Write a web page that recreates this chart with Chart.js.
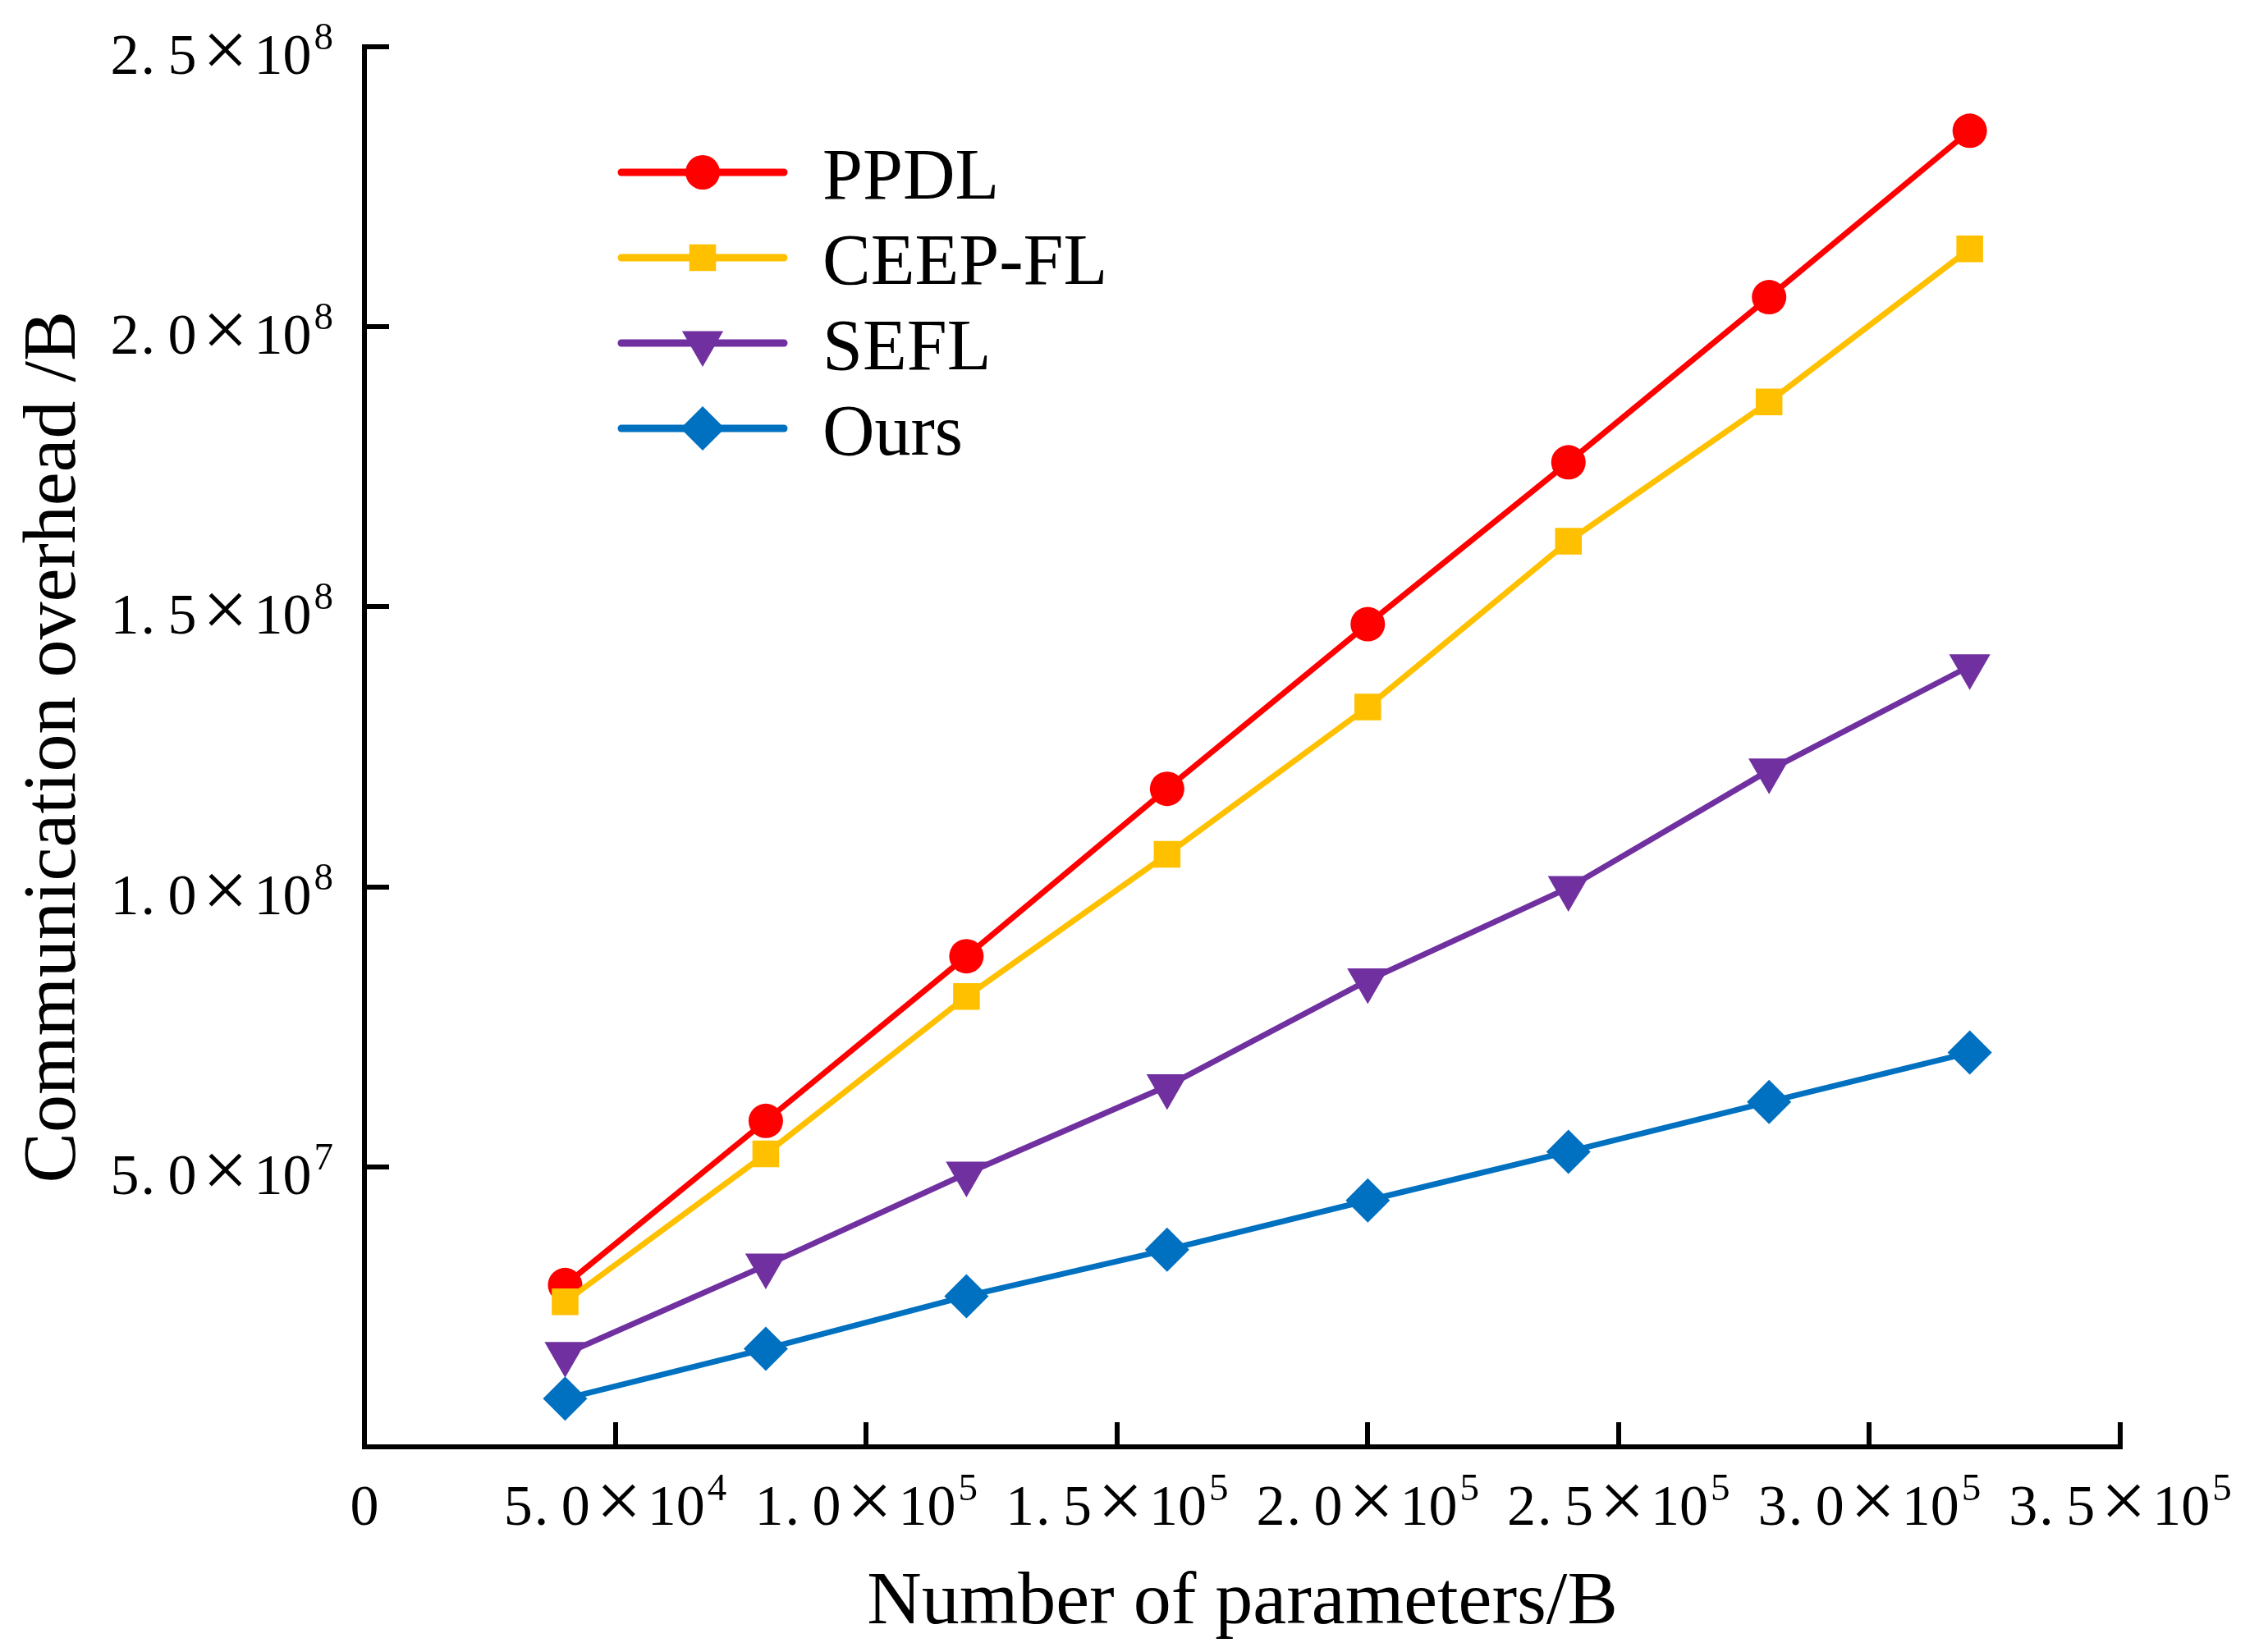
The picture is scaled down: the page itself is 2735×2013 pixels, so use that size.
<!DOCTYPE html>
<html>
<head>
<meta charset="UTF-8">
<title>Communication overhead</title>
<script src="https://cdn.jsdelivr.net/npm/chart.js@4.4.1/dist/chart.umd.min.js"></script>
<style>
  html, body { margin: 0; padding: 0; background: #fff; }
  #wrap { width: 2735px; height: 2013px; position: relative; }
</style>
</head>
<body>
<div id="wrap"><canvas id="myChart"></canvas></div>
<script>
// data
const params = [40000, 80000, 120000, 160000, 200000, 240000, 280000, 320000];
const ppdl   = [2.89e7, 5.82e7, 8.76e7, 1.175e8, 1.469e8, 1.758e8, 2.053e8, 2.350e8];
const ceepfl = [2.59e7, 5.23e7, 8.04e7, 1.058e8, 1.321e8, 1.617e8, 1.866e8, 2.139e8];
const sefl   = [1.66e7, 3.24e7, 4.88e7, 6.44e7, 8.33e7, 9.98e7, 1.208e8, 1.394e8];
const ours   = [0.86e7, 1.75e7, 2.69e7, 3.52e7, 4.40e7, 5.27e7, 6.16e7, 7.04e7];

const seriesNames = ['PPDL', 'CEEP-FL', 'SEFL', 'Ours'];
const xTickLabels = ['0', '5.0×10⁴', '1.0×10⁵', '1.5×10⁵', '2.0×10⁵', '2.5×10⁵', '3.0×10⁵', '3.5×10⁵'];
const yTickLabels = ['', '5.0×10⁷', '1.0×10⁸', '1.5×10⁸', '2.0×10⁸', '2.5×10⁸'];

const FONT = '"Liberation Serif", "Times New Roman", serif';
Chart.defaults.font.family = FONT;
Chart.defaults.color = '#000';

function pts(ys) {
    return params.map((x, i) => ({ x: x, y: ys[i] }));
}

function series(i, ys, color, style, radius, rot, order) {
    return {
        label: seriesNames[i],
        data: pts(ys),
        borderColor: color,
        backgroundColor: color,
        borderWidth: 7,
        pointStyle: style,
        pointRadius: radius,
        pointRotation: rot,
        pointBorderWidth: 0,
        tension: 0,
        order: order
    };
}

// tick labels in the original are a fixed-pitch font with a raised exponent
const SUP = { '⁰': '0', '¹': '1', '²': '2', '³': '3', '⁴': '4', '⁵': '5', '⁶': '6', '⁷': '7', '⁸': '8', '⁹': '9' };
const EM = 70, SUPSIZE = 47;

function sciWidth(ctx, label) {
    let w = 0, sup = '';
    for (const ch of label) {
        if (SUP[ch]) sup += SUP[ch];
        else w += (ch === '×') ? EM : EM / 2;
    }
    if (sup) {
        ctx.font = SUPSIZE + 'px ' + FONT;
        w += 3 + ctx.measureText(sup).width;
    }
    return w;
}

function drawSci(ctx, label, x, base) {
    ctx.save();
    ctx.fillStyle = '#000';
    ctx.textBaseline = 'alphabetic';
    let sup = '';
    for (const ch of label) {
        if (SUP[ch]) { sup += SUP[ch]; continue; }
        if (ch === '×') {
            ctx.font = '98px ' + FONT;
            ctx.textAlign = 'center';
            ctx.fillText(ch, x + EM / 2, base + 3);
            x += EM;
        } else if (ch === '.') {
            ctx.font = EM + 'px ' + FONT;
            ctx.textAlign = 'left';
            ctx.fillText(ch, x + 2, base);
            x += EM / 2;
        } else {
            ctx.font = EM + 'px ' + FONT;
            ctx.textAlign = 'center';
            ctx.fillText(ch, x + EM / 4, base);
            x += EM / 2;
        }
    }
    if (sup) {
        ctx.font = SUPSIZE + 'px ' + FONT;
        ctx.textAlign = 'left';
        ctx.fillText(sup, x + 3, base - 30);
    }
    ctx.restore();
}

const sciTicks = {
    id: 'sciTicks',
    afterDraw(chart) {
        const ctx = chart.ctx;
        const xs = chart.scales.x, ys = chart.scales.y;
        xs.ticks.forEach((t, i) => {
            const lab = xTickLabels[i] || '';
            const w = sciWidth(ctx, lab);
            drawSci(ctx, lab, xs.getPixelForTick(i) - w / 2, xs.top + 95);
        });
        ys.ticks.forEach((t, i) => {
            const lab = yTickLabels[i] || '';
            const w = sciWidth(ctx, lab);
            drawSci(ctx, lab, ys.right - 38 - w, ys.getPixelForTick(i) + 33);
        });
    }
};

// legend drawn as line + marker + text, like the original
const lineLegend = {
    id: 'lineLegend',
    afterDatasetsDraw(chart) {
        const ctx = chart.ctx;
        const area = chart.chartArea;
        const x0 = area.left + 313, x1 = area.left + 511, xm = (x0 + x1) / 2;
        chart.data.datasets.forEach((ds, i) => {
            const y = area.top + 153 + i * 104;
            ctx.save();
            ctx.strokeStyle = ds.borderColor;
            ctx.lineWidth = 9;
            ctx.lineCap = 'round';
            ctx.beginPath();
            ctx.moveTo(x0, y);
            ctx.lineTo(x1, y);
            ctx.stroke();
            ctx.fillStyle = ds.backgroundColor;
            Chart.helpers.drawPoint(ctx, {
                pointStyle: ds.pointStyle,
                radius: ds.pointRadius,
                rotation: ds.pointRotation || 0,
                borderWidth: 0
            }, xm, y);
            ctx.fillStyle = '#000';
            ctx.font = '88px ' + FONT;
            ctx.textBaseline = 'alphabetic';
            ctx.textAlign = 'left';
            ctx.fillText(ds.label, area.left + 558, y + 32);
            ctx.restore();
        });
    }
};

const ctx = document.getElementById('myChart').getContext('2d');
const chart = new Chart(ctx, {
    type: 'line',
    data: {
        datasets: [
            series(0, ppdl,   '#FF0000', 'circle',   21, 0,   4),
            series(1, ceepfl, '#FFC000', 'rect',     23, 0,   3),
            series(2, sefl,   '#7030A0', 'triangle', 29, 180, 2),
            series(3, ours,   '#0070C0', 'rectRot',  27, 0,   1)
        ]
    },
    options: {
        responsive: true,
        maintainAspectRatio: false,
        devicePixelRatio: 1,
        animation: false,
        layout: { padding: { top: 57, right: 152, bottom: 0, left: 0 } },
        plugins: {
            legend: { display: false },
            tooltip: { enabled: false }
        },
        scales: {
            x: {
                type: 'linear',
                min: 0,
                max: 350000,
                ticks: {
                    stepSize: 50000,
                    autoSkip: false,
                    maxRotation: 0,
                    callback: () => ''
                },
                grid: { drawOnChartArea: false, drawTicks: true, tickLength: -30, lineWidth: 6, color: '#000' },
                border: { display: true, width: 6, color: '#000' },
                title: {
                    display: true,
                    text: 'Number of parameters/B',
                    font: { size: 92 },
                    padding: { top: 0, bottom: 4 }
                },
                afterFit(scale) {
                    scale.height = 250;
                    scale.paddingLeft = 0;
                    scale.paddingRight = 0;
                }
            },
            y: {
                type: 'linear',
                min: 0,
                max: 250000000,
                ticks: {
                    stepSize: 50000000,
                    callback: () => ''
                },
                grid: { drawOnChartArea: false, drawTicks: true, tickLength: -30, lineWidth: 6, color: '#000' },
                border: { display: true, width: 6, color: '#000' },
                title: {
                    display: true,
                    text: 'Communication overhead /B',
                    font: { size: 92 },
                    padding: { top: 12, bottom: 0 }
                },
                afterFit(scale) {
                    scale.width = 444;
                    scale.paddingTop = 0;
                    scale.paddingBottom = 0;
                }
            }
        }
    },
    plugins: [lineLegend, sciTicks]
});
</script>
</body>
</html>
